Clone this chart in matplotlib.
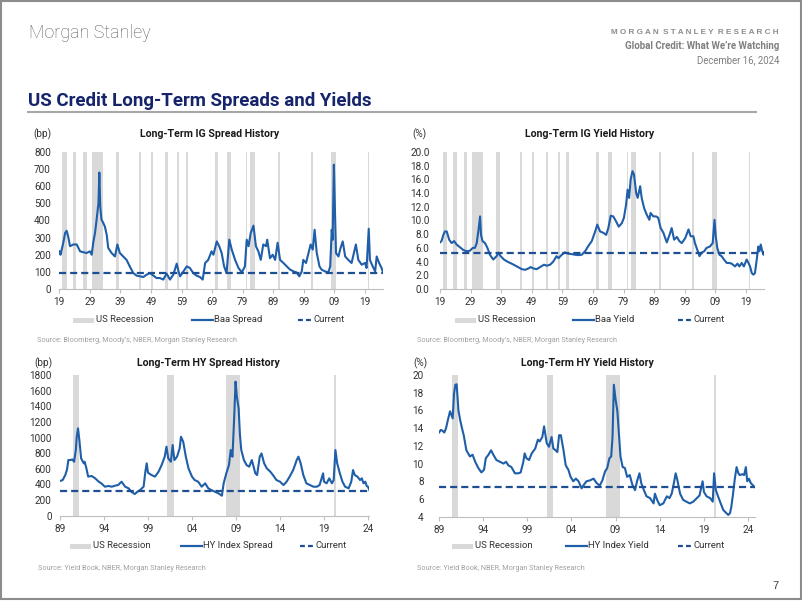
import matplotlib
matplotlib.use('Agg')
import matplotlib.pyplot as plt
from matplotlib.patches import Rectangle
from matplotlib.lines import Line2D

W, H = 802, 602
NARROW = ['Roboto', 'DejaVu Sans']
SANS = ['Liberation Sans', 'DejaVu Sans']
BLUE = '#1f5ea8'
DASH = '#1f4f93'
BAND = '#d9d9d9'
TXT = '#333333'

# NBER recessions (start, end)
rec_start = [1920.0, 1923.4, 1926.8, 1929.6, 1937.4, 1945.1, 1948.9, 1953.5, 1957.6, 1960.3,
             1969.9, 1973.9, 1980.0, 1981.5, 1990.5, 2001.2, 2007.9, 2020.1]
rec_end = [1921.4, 1924.5, 1927.9, 1933.2, 1938.5, 1945.8, 1949.8, 1954.4, 1958.3, 1961.1,
           1970.9, 1975.2, 1980.5, 1982.9, 1991.2, 2001.9, 2009.5, 2020.35]

# Long-term IG: Baa spread (bp)
ig_spread_t = [1919.0, 1919.4, 1920.3, 1920.9, 1921.4, 1921.9, 1922.5, 1923.6, 1924.7, 1925.8,
               1927.9, 1929.0, 1929.6, 1930.1, 1930.7, 1931.2, 1931.8, 1932.1, 1932.4, 1932.8,
               1933.4, 1933.9, 1934.5, 1935.0, 1936.1, 1937.2, 1938.0, 1938.8, 1939.9, 1941.0,
               1942.1, 1943.2, 1944.3, 1945.4, 1946.5, 1947.6, 1948.7, 1949.8, 1950.8, 1951.9,
               1953.0, 1954.1, 1955.2, 1956.3, 1957.4, 1958.0, 1958.5, 1959.6, 1960.7, 1961.7,
               1962.8, 1963.9, 1965.0, 1965.9, 1966.7, 1967.7, 1968.8, 1969.4, 1970.5, 1971.3,
               1972.1, 1972.9, 1973.7, 1974.6, 1975.4, 1976.5, 1977.6, 1978.7, 1979.7, 1980.3,
               1980.9, 1981.6, 1982.5, 1983.3, 1984.1, 1984.9, 1985.7, 1986.6, 1987.0, 1987.9,
               1988.8, 1989.6, 1990.4, 1991.2, 1992.3, 1993.4, 1994.5, 1995.6, 1996.6, 1997.5,
               1998.3, 1998.8, 1999.7, 2000.5, 2001.2, 2001.9, 2002.5, 2003.2, 2004.1, 2004.8,
               2005.9, 2007.0, 2007.6, 2008.1, 2008.4, 2008.8, 2009.1, 2009.5, 2010.3, 2011.0,
               2011.7, 2012.5, 2013.5, 2014.6, 2016.0, 2016.8, 2017.9, 2019.0, 2019.5, 2020.2,
               2020.6, 2021.5, 2022.3, 2022.8, 2023.6, 2024.4, 2024.9]
ig_spread = [220, 200, 270, 327, 340, 307, 250, 260, 260, 220,
             210, 220, 200, 270, 330, 405, 500, 680, 480, 405,
             385, 365, 317, 240, 210, 190, 260, 210, 190, 170,
             130, 93, 78, 74, 70, 84, 93, 78, 64, 64,
             55, 90, 55, 84, 148, 103, 74, 103, 132, 123,
             93, 78, 70, 55, 152, 170, 220, 200, 278, 250,
             210, 132, 93, 288, 230, 170, 123, 97, 132, 288,
             250, 327, 370, 250, 220, 170, 260, 250, 288, 180,
             200, 170, 270, 170, 152, 132, 113, 103, 97, 74,
             103, 170, 152, 210, 260, 230, 346, 210, 132, 113,
             103, 97, 132, 346, 288, 726, 500, 210, 190, 240,
             278, 190, 170, 152, 260, 170, 142, 152, 123, 352,
             170, 132, 103, 190, 152, 123, 97]
ig_spread_now = 93

# Long-term IG: Baa yield (%)
ig_yield_t = [1919.0, 1919.5, 1920.1, 1920.6, 1921.2, 1922.0, 1922.8, 1923.6, 1924.4, 1925.5,
              1926.6, 1927.7, 1928.8, 1929.7, 1930.4, 1931.0, 1931.6, 1932.1, 1932.4, 1932.9,
              1933.7, 1934.5, 1935.3, 1936.4, 1937.5, 1938.1, 1938.8, 1939.9, 1941.0, 1942.4,
              1944.1, 1945.7, 1946.8, 1947.9, 1948.6, 1949.5, 1950.6, 1951.7, 1953.0, 1953.9,
              1955.0, 1956.0, 1957.1, 1957.7, 1958.8, 1959.8, 1960.9, 1962.0, 1963.1, 1964.2,
              1965.3, 1966.4, 1967.5, 1968.6, 1969.7, 1970.4, 1971.3, 1972.4, 1973.3, 1974.0,
              1974.8, 1975.6, 1976.5, 1977.4, 1978.4, 1979.1, 1979.8, 1980.3, 1980.8, 1981.3,
              1981.9, 1982.4, 1983.1, 1983.6, 1984.4, 1984.9, 1985.7, 1986.5, 1987.4, 1987.8,
              1988.7, 1989.6, 1990.3, 1991.1, 1992.0, 1993.1, 1994.0, 1994.7, 1995.5, 1996.4,
              1997.2, 1998.0, 1999.1, 2000.2, 2000.9, 2001.8, 2002.3, 2003.1, 2003.8, 2004.5,
              2005.3, 2006.1, 2007.2, 2008.1, 2008.7, 2009.1, 2009.6, 2010.3, 2011.0, 2011.8,
              2012.7, 2013.5, 2014.3, 2015.4, 2016.2, 2016.8, 2017.6, 2018.3, 2019.2, 2019.8,
              2020.3, 2020.9, 2021.4, 2021.9, 2022.5, 2023.0, 2023.4, 2023.8, 2024.2, 2024.7,
              2024.95]
ig_yield = [6.8, 7.0, 7.9, 8.4, 8.4, 7.2, 6.7, 7.0, 6.5, 6.1,
            5.7, 5.5, 5.6, 6.0, 6.0, 6.7, 8.7, 10.6, 7.9, 7.0,
            6.7, 6.0, 5.0, 4.3, 4.8, 5.3, 4.8, 4.3, 4.0, 3.7,
            3.3, 2.9, 2.8, 3.0, 3.2, 3.0, 2.9, 3.2, 3.55, 3.4,
            3.55, 4.0, 4.8, 4.5, 5.0, 5.35, 5.15, 5.1, 5.0, 4.95,
            5.0, 5.5, 6.3, 7.0, 8.4, 9.4, 8.4, 8.2, 7.9, 8.9,
            10.7, 10.6, 9.9, 9.1, 9.6, 10.4, 12.3, 14.5, 13.3, 16.0,
            17.2, 16.7, 14.0, 13.3, 15.0, 13.3, 11.8, 10.9, 10.1, 11.1,
            10.6, 10.6, 10.4, 8.9, 8.2, 6.8, 7.9, 8.9, 7.2, 7.6,
            7.0, 6.7, 7.4, 8.7, 7.7, 7.7, 6.7, 5.7, 4.8, 5.3,
            5.5, 6.0, 6.2, 6.7, 10.1, 7.7, 6.0, 5.0, 4.8, 4.3,
            3.8, 3.8, 3.7, 3.3, 3.7, 3.3, 3.8, 3.3, 4.3, 3.8,
            3.3, 2.3, 2.1, 2.3, 4.3, 6.2, 5.5, 6.5, 5.7, 5.0,
            5.35]
ig_yield_now = 5.2

# Long-term HY: index spread (bp)
hy_spread_t = [1989.0, 1989.3, 1989.6, 1989.8, 1989.95, 1990.2, 1990.4, 1990.6, 1990.8, 1990.9,
               1991.05, 1991.2, 1991.4, 1991.7, 1991.8, 1992.0, 1992.2, 1992.6, 1993.0, 1993.4,
               1993.7, 1994.1, 1994.5, 1994.9, 1995.25, 1995.6, 1996.0, 1996.4, 1996.8, 1997.1,
               1997.5, 1997.8, 1998.1, 1998.5, 1998.7, 1998.85, 1999.0, 1999.4, 1999.8, 2000.2,
               2000.55, 2000.9, 2001.1, 2001.3, 2001.6, 2001.8, 2002.0, 2002.3, 2002.6, 2002.75,
               2003.0, 2003.3, 2003.6, 2004.0, 2004.3, 2004.7, 2005.1, 2005.5, 2005.85, 2006.2,
               2006.6, 2007.0, 2007.4, 2007.6, 2007.9, 2008.2, 2008.4, 2008.6, 2008.8, 2008.95,
               2009.1, 2009.3, 2009.45, 2009.6, 2009.9, 2010.2, 2010.5, 2010.8, 2011.2, 2011.4,
               2011.7, 2011.9, 2012.2, 2012.5, 2012.9, 2013.2, 2013.6, 2014.0, 2014.4, 2014.75,
               2015.1, 2015.5, 2015.9, 2016.1, 2016.35, 2016.65, 2017.0, 2017.4, 2017.8, 2018.2,
               2018.5, 2018.9, 2019.0, 2019.3, 2019.6, 2019.9, 2020.1, 2020.3, 2020.5, 2020.8,
               2021.1, 2021.4, 2021.8, 2022.1, 2022.3, 2022.5, 2022.8, 2023.1, 2023.3, 2023.5,
               2023.7, 2023.85, 2024.0, 2024.15]
hy_spread = [444, 456, 520, 593, 712, 712, 720, 690, 840, 1010,
             1117, 968, 734, 670, 690, 606, 500, 508, 478, 435,
             414, 371, 380, 371, 384, 392, 435, 371, 350, 307,
             277, 307, 328, 371, 563, 670, 550, 520, 500, 563,
             648, 755, 883, 734, 690, 904, 712, 755, 862, 1010,
             947, 755, 606, 500, 456, 435, 371, 414, 350, 328,
             307, 286, 256, 414, 542, 648, 840, 755, 1267, 1715,
             1523, 1373, 1032, 840, 712, 648, 627, 712, 542, 520,
             755, 797, 670, 606, 563, 520, 456, 435, 392, 435,
             500, 584, 712, 755, 670, 520, 414, 392, 371, 371,
             392, 542, 435, 414, 478, 414, 456, 840, 670, 542,
             435, 371, 350, 435, 584, 520, 500, 456, 478, 414,
             435, 380, 371, 328]
hy_spread_now = 320

# Long-term HY: index yield (%)
hy_yield_t = [1989.0, 1989.2, 1989.4, 1989.6, 1989.8, 1990.0, 1990.25, 1990.4, 1990.55, 1990.7,
              1990.85, 1991.0, 1991.2, 1991.4, 1991.6, 1991.8, 1992.1, 1992.5, 1992.8, 1993.1,
              1993.45, 1993.8, 1994.1, 1994.3, 1994.6, 1994.9, 1995.15, 1995.5, 1995.9, 1996.3,
              1996.6, 1996.85, 1997.2, 1997.6, 1998.0, 1998.25, 1998.55, 1998.7, 1998.9, 1999.2,
              1999.5, 1999.9, 2000.2, 2000.4, 2000.7, 2000.9, 2001.2, 2001.45, 2001.75, 2001.95,
              2002.2, 2002.4, 2002.6, 2002.8, 2003.1, 2003.35, 2003.65, 2003.9, 2004.2, 2004.5,
              2004.8, 2005.15, 2005.4, 2005.7, 2006.1, 2006.5, 2006.85, 2007.2, 2007.5, 2007.8,
              2008.05, 2008.3, 2008.5, 2008.65, 2008.8, 2009.0, 2009.2, 2009.4, 2009.55, 2009.8,
              2010.05, 2010.3, 2010.6, 2010.9, 2011.2, 2011.45, 2011.7, 2011.9, 2012.2, 2012.5,
              2012.9, 2013.3, 2013.45, 2013.7, 2014.0, 2014.4, 2014.8, 2015.1, 2015.35, 2015.6,
              2015.8, 2016.0, 2016.3, 2016.65, 2017.0, 2017.4, 2017.8, 2018.2, 2018.5, 2018.85,
              2019.0, 2019.3, 2019.7, 2020.0, 2020.15, 2020.35, 2020.6, 2020.9, 2021.2, 2021.5,
              2021.75, 2021.95, 2022.1, 2022.3, 2022.5, 2022.7, 2022.9, 2023.05, 2023.35, 2023.55,
              2023.75, 2023.9, 2024.1, 2024.3, 2024.6, 2024.7]
hy_yield = [13.5, 13.8, 13.7, 13.5, 14.0, 14.9, 15.9, 15.5, 15.1, 17.9,
            18.9, 18.95, 16.0, 14.9, 14.0, 13.2, 11.5, 10.8, 11.0, 10.2,
            9.5, 9.0, 9.3, 10.6, 11.0, 11.5, 11.0, 10.4, 10.2, 10.0,
            10.2, 9.8, 9.6, 8.9, 8.9, 9.0, 10.2, 11.15, 10.6, 10.4,
            11.15, 11.7, 12.7, 12.5, 13.0, 14.2, 12.3, 11.9, 13.0, 11.7,
            11.5, 11.3, 13.2, 13.2, 11.5, 9.8, 9.3, 8.5, 8.0, 8.3,
            8.0, 7.2, 7.6, 8.0, 8.1, 8.3, 7.8, 7.5, 8.1, 9.1,
            9.5, 10.6, 10.8, 13.0, 18.9, 17.2, 15.9, 13.0, 10.8, 9.6,
            9.5, 8.5, 8.7, 7.6, 7.0, 8.1, 8.9, 7.8, 7.0, 6.3,
            6.1, 5.5, 6.6, 5.9, 5.3, 5.5, 6.3, 6.1, 6.6, 7.8,
            8.9, 8.1, 6.6, 5.9, 5.7, 5.5, 5.7, 6.1, 6.4, 8.0,
            6.8, 6.3, 6.1, 5.7, 8.9, 7.0, 6.3, 5.5, 4.75, 4.45,
            4.2, 4.4, 5.1, 6.6, 8.3, 9.6, 8.9, 8.7, 8.8, 8.7,
            9.6, 8.0, 8.3, 7.8, 7.5, 7.35]
hy_yield_now = 7.35

ig_xticks = [1919, 1929, 1939, 1949, 1959, 1969, 1979, 1989, 1999, 2009, 2019]
hy_xticks = [1989, 1994, 1999, 2004, 2009, 2014, 2019, 2024]

fig = plt.figure(figsize=(W / 100, H / 100), dpi=100)


def ftext(x, y, s, **kw):
    kw.setdefault('va', 'center')
    fig.text(x / W, 1 - y / H, s, **kw)


def axes_px(x0, x1, ytop, ybot):
    return fig.add_axes([x0 / W, 1 - ybot / H, (x1 - x0) / W, (ybot - ytop) / H])


def panel(ax, t, v, now, xlim, ylim, yticks, yfmt, xticks, ypad):
    for s, e in zip(rec_start, rec_end):
        if e > xlim[0]:
            ax.axvspan(max(s, xlim[0]), e, color=BAND, lw=0, zorder=1)
    ax.plot(t, v, color=BLUE, lw=1.5, zorder=3)
    ax.axhline(now, color=DASH, lw=1.6, ls=(0, (3.2, 1.8)), zorder=4)
    ax.set_xlim(xlim)
    ax.set_ylim(ylim)
    ax.set_yticks(yticks)
    ax.set_yticklabels([yfmt.format(y) for y in yticks], family=NARROW, fontsize=7.2, color=TXT)
    ax.set_xticks(xticks)
    ax.set_xticklabels(['%02d' % (x % 100) for x in xticks], family=NARROW, fontsize=7.2, color=TXT)
    for sp in ['top', 'right', 'left']:
        ax.spines[sp].set_visible(False)
    ax.spines['bottom'].set_color('#bfbfbf')
    ax.spines['bottom'].set_linewidth(0.8)
    ax.tick_params(axis='y', length=0, pad=ypad)
    ax.tick_params(axis='x', length=3, color='#bfbfbf', width=0.8, pad=3)
    ax.patch.set_alpha(0)


def legend_row(y, xp, xl, xd, label):
    fig.patches.append(Rectangle((xp / W, 1 - (y + 2.5) / H), 21 / W, 5 / H,
                                 transform=fig.transFigure, color=BAND, lw=0))
    ftext(xp + 23, y, 'US Recession', family=NARROW, fontsize=6.8, color=TXT)
    fig.lines.append(Line2D([xl / W, (xl + 21) / W], [1 - y / H] * 2, transform=fig.transFigure,
                            color=BLUE, lw=1.6))
    ftext(xl + 22, y, label, family=NARROW, fontsize=6.8, color=TXT)
    fig.lines.append(Line2D([xd / W, (xd + 14) / W], [1 - y / H] * 2, transform=fig.transFigure,
                            color=DASH, lw=1.6, ls=(0, (2.2, 1.4))))
    ftext(xd + 16, y, 'Current', family=NARROW, fontsize=6.8, color=TXT)


# page frame
fig.patches.append(Rectangle((0.5 / W, 3 / H), 800.5 / W, 598 / H, transform=fig.transFigure,
                             fill=False, edgecolor='#8c8c8c', lw=1.5))

# header
ftext(29, 33, 'Morgan Stanley', family=['Roboto', 'DejaVu Sans'], fontweight='light',
      fontsize=13.0, color='#5f5f5f')
ftext(779, 32, '  '.join(' '.join(w) for w in ['MORGAN', 'STANLEY', 'RESEARCH']),
      family=SANS, fontweight='bold', fontsize=5.9, color='#8c8c8c', ha='right')
ftext(779, 46, 'Global Credit: What We\u2019re Watching', family=NARROW, fontweight='bold',
      fontsize=6.9, color='#7f7f7f', ha='right')
ftext(779, 60, 'December 16, 2024', family=NARROW, fontsize=6.9, color='#7f7f7f', ha='right')
ftext(28, 101, 'US Credit Long-Term Spreads and Yields', family=NARROW, fontweight='bold',
      fontsize=13.5, color='#16256b')
fig.lines.append(Line2D([28 / W, 756 / W], [1 - 112 / H] * 2, transform=fig.transFigure,
                        color='#a6a6a6', lw=1.5))
ftext(779, 586, '7', family=SANS, fontsize=8, color='#404040', ha='right')

# panel 1: IG spread
ax1 = axes_px(59.3, 383.4, 152, 289)
panel(ax1, ig_spread_t, ig_spread, ig_spread_now, (1919, 2025), (0, 800),
      list(range(0, 801, 100)), '{:.0f}', ig_xticks, 6)
ftext(33, 134, '(bp)', family=NARROW, fontsize=7.2, color=TXT)
ftext(210, 134, 'Long-Term IG Spread History', family=NARROW, fontweight='bold',
      fontsize=7.6, color='#1a1a1a', ha='center')
legend_row(320, 73, 192, 298, 'Baa Spread')
ftext(37, 340, 'Source: Bloomberg, Moody\u2019s, NBER, Morgan Stanley Research', family=NARROW,
      fontsize=5.2, color='#a0a0a0')

# panel 2: IG yield
ax2 = axes_px(440, 764.4, 152, 289)
panel(ax2, ig_yield_t, ig_yield, ig_yield_now, (1919, 2025), (0, 20),
      list(range(0, 21, 2)), '{:.1f}', ig_xticks, 7.5)
ftext(412, 134, '(%)', family=NARROW, fontsize=7.2, color=TXT)
ftext(590, 134, 'Long-Term IG Yield History', family=NARROW, fontweight='bold',
      fontsize=7.6, color='#1a1a1a', ha='center')
legend_row(320, 455, 573, 678, 'Baa Yield')
ftext(417, 340, 'Source: Bloomberg, Moody\u2019s, NBER, Morgan Stanley Research', family=NARROW,
      fontsize=5.2, color='#a0a0a0')

# panel 3: HY spread
ax3 = axes_px(60, 369.3, 375, 515.7)
panel(ax3, hy_spread_t, hy_spread, hy_spread_now, (1989, 2024.15), (0, 1800),
      list(range(0, 1801, 200)), '{:.0f}', hy_xticks, 6)
ftext(34, 363, '(bp)', family=NARROW, fontsize=7.2, color=TXT)
ftext(208, 363, 'Long-Term HY Spread History', family=NARROW, fontweight='bold',
      fontsize=7.6, color='#1a1a1a', ha='center')
legend_row(546, 70, 181, 300, 'HY Index Spread')
ftext(38, 569, 'Source: Yield Book, NBER, Morgan Stanley Research', family=NARROW,
      fontsize=5.2, color='#a0a0a0')

# panel 4: HY yield
ax4 = axes_px(439, 754.7, 375, 516.7)
panel(ax4, hy_yield_t, hy_yield, hy_yield_now, (1989, 2024.75), (4, 20),
      list(range(4, 21, 2)), '{:.0f}', hy_xticks, 11)
ftext(413, 363, '(%)', family=NARROW, fontsize=7.2, color=TXT)
ftext(587, 363, 'Long-Term HY Yield History', family=NARROW, fontweight='bold',
      fontsize=7.6, color='#1a1a1a', ha='center')
legend_row(546, 452, 566, 678, 'HY Index Yield')
ftext(417, 569, 'Source: Yield Book, NBER, Morgan Stanley Research', family=NARROW,
      fontsize=5.2, color='#a0a0a0')

fig.savefig('out.png', dpi=100)
